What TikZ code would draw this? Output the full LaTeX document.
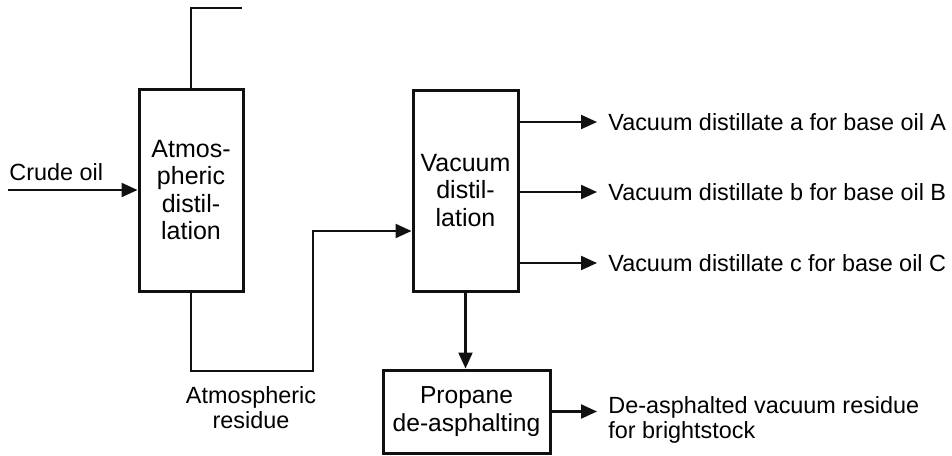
\documentclass[tikz,border=0pt]{standalone}
\usepackage{fontspec}
\setmainfont{Liberation Sans}
\usetikzlibrary{arrows.meta}
\definecolor{flowfg}{HTML}{111111}

\begin{document}
\begin{tikzpicture}[x=0.5pt,y=-0.5pt,>={Triangle[length=8pt,width=7pt]},
  font=\fontsize{11.7}{13.6}\selectfont]
  \tikzstyle{unit}=[draw=flowfg, line width=1.5pt, align=center, inner sep=0pt,
    font=\fontsize{12.5}{13.75}\selectfont]
  \tikzstyle{flow}=[draw=flowfg, line width=1.1pt, line join=miter]
  \tikzstyle{stream}=[align=left, inner sep=0pt, inner xsep=5.5pt, anchor=west,
    font=\fontsize{11.7}{12.5}\selectfont]

  \path[use as bounding box] (0,0) rectangle (952,455);

  % Process units.
  \node[unit, minimum width=52pt, minimum height=101pt] (atm) at (191,190)
    {Atmos-\\pheric\\distil-\\lation};
  \node[unit, minimum width=52.5pt, minimum height=100.5pt] (vac) at (465.5,190.5)
    {Vacuum\\distil-\\lation};
  \node[unit, minimum width=83.5pt, minimum height=41.5pt,
    font=\fontsize{12.3}{14}\selectfont] (pda) at (466.5,411.5)
    {Propane\\de-asphalting};

  % Feed and overhead of the atmospheric column.
  \coordinate (crudein) at (8,190);
  \node[anchor=base west, inner sep=0pt] (crudelab) at (9,180) {Crude oil};
  \draw[flow, ->] (crudein) -- (atm.west);
  \coordinate (overhead) at (242,8);
  \draw[flow] (atm.north) |- (overhead);

  % Atmospheric residue to vacuum column.
  \coordinate (resbend) at (313,371);
  \coordinate (resup) at (313,231);
  \draw[flow, ->] (atm.south) |- (resbend) -- (resup) -- (vac.west |- resup);
  \node[align=center, inner sep=0pt, font=\fontsize{11.7}{12.5}\selectfont]
    (reslab) at (251,408) {Atmospheric\\residue};

  % Vacuum distillate side streams.
  \foreach \y/\cut/\oil in {122/a/A,192/b/B,263/c/C} {
    \node[stream] (out\cut) at (597,\y) {Vacuum distillate \cut{} for base oil \oil};
    \draw[flow, ->] (vac.east |- out\cut.west) -- (out\cut.west);
  }

  % Vacuum residue through propane de-asphalting.
  \draw[flow, ->] (vac.south) -- (pda.north -| vac.south);
  \node[stream] (bright) at (597,419.5) {De-asphalted vacuum residue\\for brightstock};
  \draw[flow, ->] (pda.east) -- (pda.east -| bright.west);
\end{tikzpicture}
\end{document}
